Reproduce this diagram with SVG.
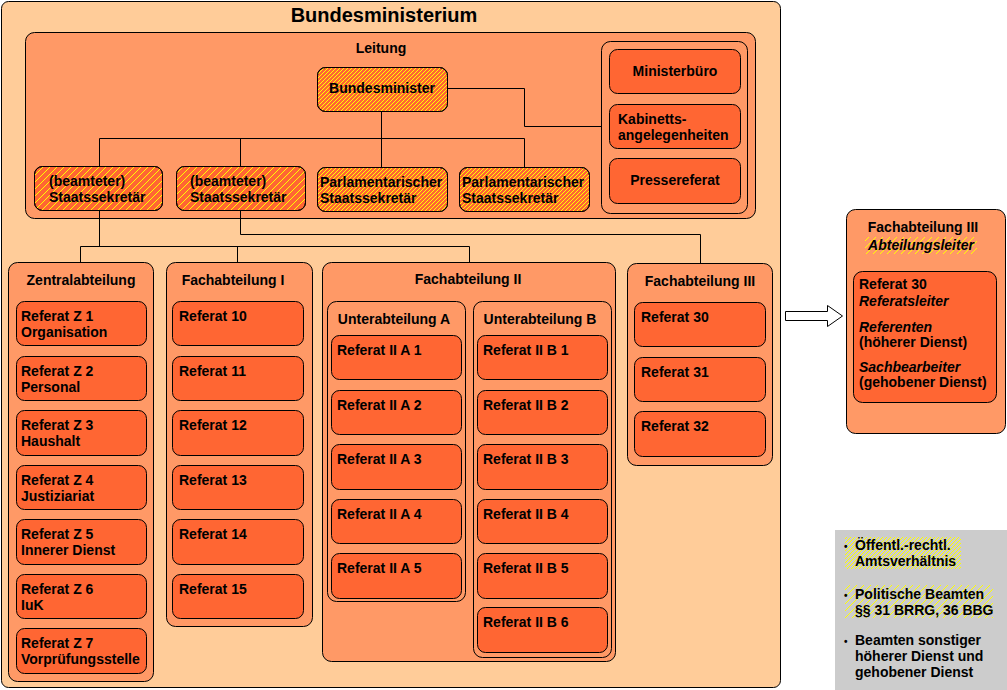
<svg xmlns="http://www.w3.org/2000/svg" width="1007" height="690" viewBox="0 0 1007 690">
<style>
text{font-family:"Liberation Sans",Arial,sans-serif;font-size:14px;font-weight:bold;fill:#000}
.c{text-anchor:middle}
.i{font-style:italic}
.outer{fill:#FFCC99;stroke:#000;stroke-width:1}
.box{fill:#FF9966;stroke:#000;stroke-width:1}
.node{fill:#FF6633;stroke:#000;stroke-width:1}
.conn{fill:none;stroke:#000;stroke-width:1}
.hp{fill:#FFFF00}
</style>
<defs>
<pattern id="hd" patternUnits="userSpaceOnUse" width="4" height="4">
<rect class="hp" x="3" y="0" width="1" height="1"/><rect class="hp" x="2" y="1" width="1" height="1"/><rect class="hp" x="1" y="2" width="1" height="1"/><rect class="hp" x="0" y="3" width="1" height="1"/>
</pattern>
<pattern id="hs" patternUnits="userSpaceOnUse" width="7" height="7">
<rect class="hp" x="6" y="0" width="1" height="1"/><rect class="hp" x="5" y="1" width="1" height="1"/><rect class="hp" x="4" y="2" width="1" height="1"/><rect class="hp" x="3" y="3" width="1" height="1"/><rect class="hp" x="2" y="4" width="1" height="1"/><rect class="hp" x="1" y="5" width="1" height="1"/><rect class="hp" x="0" y="6" width="1" height="1"/>
</pattern>
</defs>
<rect x="0" y="0" width="1007" height="690" fill="#FFFFFF"/>

<g id="bundesministerium">
<rect class="outer" x="1.5" y="1.5" width="779" height="686" rx="7"/>
<text class="c" x="384" y="22" style="font-size:20px">Bundesministerium</text>
</g>

<g id="leitung">
<rect class="box" x="25.5" y="32.5" width="730" height="186" rx="9"/>
<text class="c" x="381" y="53">Leitung</text>
</g>

<g id="stab">
<rect class="box" x="601.5" y="41.5" width="146" height="172" rx="9"/>
</g>

<g id="connectors">
<path class="conn" d="M447,88.5 H524.5 V126.5 H601"/>
<path class="conn" d="M381.5,111 V138.5 M99.5,167 V138.5 H524.5 V167 M240.5,138.5 V167 M381.5,138.5 V168"/>
<path class="conn" d="M99.5,211 V246.5 M80.5,263 V246.5 H469.5 V263 M237.5,246.5 V263"/>
<path class="conn" d="M240.5,211 V234.5 H700.5 V263"/>
</g>

<g id="bundesminister">
<rect class="node" x="317.5" y="67.5" width="130" height="44" rx="8"/>
<rect x="317.5" y="67.5" width="130" height="44" rx="8" fill="url(#hd)" stroke="#000"/>
<text class="c" x="382" y="93">Bundesminister</text>
</g>

<g id="ministerbuero">
<rect class="node" x="609.5" y="49.5" width="131" height="44" rx="8"/>
<text class="c" x="675" y="76">Ministerbüro</text>
</g>
<g id="kabinett">
<rect class="node" x="609.5" y="104.5" width="131" height="44" rx="8"/>
<text x="618" y="124">Kabinetts-</text>
<text x="618" y="140">angelegenheiten</text>
</g>
<g id="pressereferat">
<rect class="node" x="609.5" y="158.5" width="131" height="45" rx="8"/>
<text class="c" x="675" y="185">Pressereferat</text>
</g>

<g id="ss1">
<rect class="node" x="34.5" y="166.5" width="128" height="44" rx="8"/>
<rect x="34.5" y="166.5" width="128" height="44" rx="8" fill="url(#hs)" stroke="#000"/>
<text x="49" y="186">(beamteter)</text>
<text x="49" y="202">Staatssekretär</text>
</g>
<g id="ss2">
<rect class="node" x="176.5" y="166.5" width="129" height="44" rx="8"/>
<rect x="176.5" y="166.5" width="129" height="44" rx="8" fill="url(#hs)" stroke="#000"/>
<text x="190" y="186">(beamteter)</text>
<text x="190" y="202">Staatssekretär</text>
</g>
<g id="pss1">
<rect class="node" x="317.5" y="167.5" width="130" height="44" rx="8"/>
<rect x="317.5" y="167.5" width="130" height="44" rx="8" fill="url(#hd)" stroke="#000"/>
<text x="320" y="187">Parlamentarischer</text>
<text x="320" y="203">Staatssekretär</text>
</g>
<g id="pss2">
<rect class="node" x="459.5" y="167.5" width="130" height="44" rx="8"/>
<rect x="459.5" y="167.5" width="130" height="44" rx="8" fill="url(#hd)" stroke="#000"/>
<text x="462" y="187">Parlamentarischer</text>
<text x="462" y="203">Staatssekretär</text>
</g>

<g id="zentralabteilung">
<rect class="box" x="8.5" y="262.5" width="145" height="419" rx="9"/>
<text class="c" x="81" y="285">Zentralabteilung</text>
</g>
<g id="z1"><rect class="node" x="16.5" y="301.5" width="130" height="44" rx="8"/><text x="21" y="321">Referat Z 1</text><text x="21" y="337">Organisation</text></g>
<g id="z2"><rect class="node" x="16.5" y="356.5" width="130" height="44" rx="8"/><text x="21" y="376">Referat Z 2</text><text x="21" y="392">Personal</text></g>
<g id="z3"><rect class="node" x="16.5" y="410.5" width="130" height="45" rx="8"/><text x="21" y="430">Referat Z 3</text><text x="21" y="446">Haushalt</text></g>
<g id="z4"><rect class="node" x="16.5" y="465.5" width="130" height="44" rx="8"/><text x="21" y="485">Referat Z 4</text><text x="21" y="501">Justiziariat</text></g>
<g id="z5"><rect class="node" x="16.5" y="519.5" width="130" height="45" rx="8"/><text x="21" y="539">Referat Z 5</text><text x="21" y="555">Innerer Dienst</text></g>
<g id="z6"><rect class="node" x="16.5" y="574.5" width="130" height="44" rx="8"/><text x="21" y="594">Referat Z 6</text><text x="21" y="610">IuK</text></g>
<g id="z7"><rect class="node" x="16.5" y="628.5" width="130" height="45" rx="8"/><text x="21" y="648">Referat Z 7</text><text x="21" y="664">Vorprüfungsstelle</text></g>

<g id="fachabteilung1">
<rect class="box" x="166.5" y="262.5" width="146" height="364" rx="9"/>
<text class="c" x="233" y="285">Fachabteilung I</text>
</g>
<g id="r10"><rect class="node" x="172.5" y="301.5" width="131" height="44" rx="8"/><text x="179" y="321">Referat 10</text></g>
<g id="r11"><rect class="node" x="172.5" y="356.5" width="131" height="44" rx="8"/><text x="179" y="376">Referat 11</text></g>
<g id="r12"><rect class="node" x="172.5" y="410.5" width="131" height="45" rx="8"/><text x="179" y="430">Referat 12</text></g>
<g id="r13"><rect class="node" x="172.5" y="465.5" width="131" height="44" rx="8"/><text x="179" y="485">Referat 13</text></g>
<g id="r14"><rect class="node" x="172.5" y="519.5" width="131" height="45" rx="8"/><text x="179" y="539">Referat 14</text></g>
<g id="r15"><rect class="node" x="172.5" y="574.5" width="131" height="44" rx="8"/><text x="179" y="594">Referat 15</text></g>

<g id="fachabteilung2">
<rect class="box" x="322.5" y="262.5" width="293" height="399" rx="9"/>
<text class="c" x="468" y="284">Fachabteilung II</text>
</g>
<g id="unterabteilungA">
<rect class="box" x="327.5" y="301.5" width="138" height="300" rx="9"/>
<text class="c" x="394" y="324">Unterabteilung A</text>
</g>
<g id="a1"><rect class="node" x="331.5" y="335.5" width="130" height="44" rx="8"/><text x="337" y="355">Referat II A 1</text></g>
<g id="a2"><rect class="node" x="331.5" y="390.5" width="130" height="44" rx="8"/><text x="337" y="410">Referat II A 2</text></g>
<g id="a3"><rect class="node" x="331.5" y="444.5" width="130" height="45" rx="8"/><text x="337" y="464">Referat II A 3</text></g>
<g id="a4"><rect class="node" x="331.5" y="499.5" width="130" height="44" rx="8"/><text x="337" y="519">Referat II A 4</text></g>
<g id="a5"><rect class="node" x="331.5" y="553.5" width="130" height="45" rx="8"/><text x="337" y="573">Referat II A 5</text></g>
<g id="unterabteilungB">
<rect class="box" x="473.5" y="301.5" width="138" height="356" rx="9"/>
<text class="c" x="540" y="324">Unterabteilung B</text>
</g>
<g id="b1"><rect class="node" x="477.5" y="335.5" width="130" height="44" rx="8"/><text x="483" y="355">Referat II B 1</text></g>
<g id="b2"><rect class="node" x="477.5" y="390.5" width="130" height="44" rx="8"/><text x="483" y="410">Referat II B 2</text></g>
<g id="b3"><rect class="node" x="477.5" y="444.5" width="130" height="45" rx="8"/><text x="483" y="464">Referat II B 3</text></g>
<g id="b4"><rect class="node" x="477.5" y="499.5" width="130" height="44" rx="8"/><text x="483" y="519">Referat II B 4</text></g>
<g id="b5"><rect class="node" x="477.5" y="553.5" width="130" height="45" rx="8"/><text x="483" y="573">Referat II B 5</text></g>
<g id="b6"><rect class="node" x="477.5" y="607.5" width="130" height="45" rx="8"/><text x="483" y="627">Referat II B 6</text></g>

<g id="fachabteilung3">
<rect class="box" x="627.5" y="263.5" width="145" height="202" rx="9"/>
<text class="c" x="700" y="286">Fachabteilung III</text>
</g>
<g id="r30"><rect class="node" x="634.5" y="302.5" width="131" height="44" rx="8"/><text x="641" y="322">Referat 30</text></g>
<g id="r31"><rect class="node" x="634.5" y="357.5" width="131" height="44" rx="8"/><text x="641" y="377">Referat 31</text></g>
<g id="r32"><rect class="node" x="634.5" y="411.5" width="131" height="45" rx="8"/><text x="641" y="431">Referat 32</text></g>

<g id="arrow">
<path d="M785.5,311.5 H827.5 V305.5 L842.5,316 L827.5,326.5 V320.5 H785.5 Z" fill="#FFFFFF" stroke="#000" stroke-width="1"/>
</g>

<g id="detail">
<rect class="box" x="846.5" y="209.5" width="159" height="224" rx="9"/>
<text class="c" x="923" y="232">Fachabteilung III</text>
<rect x="865" y="237" width="112" height="17" fill="url(#hs)"/>
<text class="c i" x="921" y="250">Abteilungsleiter</text>
<rect class="node" x="853.5" y="271.5" width="143" height="131" rx="9"/>
<text x="859" y="289">Referat 30</text>
<text class="i" x="859" y="306">Referatsleiter</text>
<text class="i" x="859" y="332">Referenten</text>
<text x="859" y="347">(höherer Dienst)</text>
<text class="i" x="859" y="372">Sachbearbeiter</text>
<text x="859" y="387">(gehobener Dienst)</text>
</g>

<g id="legend">
<rect x="835" y="530" width="172" height="160" fill="#CCCCCC"/>
<rect x="845" y="537" width="116" height="32" fill="url(#hd)"/>
<rect x="845" y="585" width="148" height="33" fill="url(#hs)"/>
<text x="844" y="550" style="font-size:10px">•</text>
<text x="855" y="550">Öffentl.-rechtl.</text>
<text x="855" y="566">Amtsverhältnis</text>
<text x="844" y="599" style="font-size:10px">•</text>
<text x="855" y="599">Politische Beamten</text>
<text x="855" y="615">§§ 31 BRRG, 36 BBG</text>
<text x="844" y="645" style="font-size:10px">•</text>
<text x="855" y="645">Beamten sonstiger</text>
<text x="855" y="661">höherer Dienst und</text>
<text x="855" y="677">gehobener Dienst</text>
</g>
</svg>
